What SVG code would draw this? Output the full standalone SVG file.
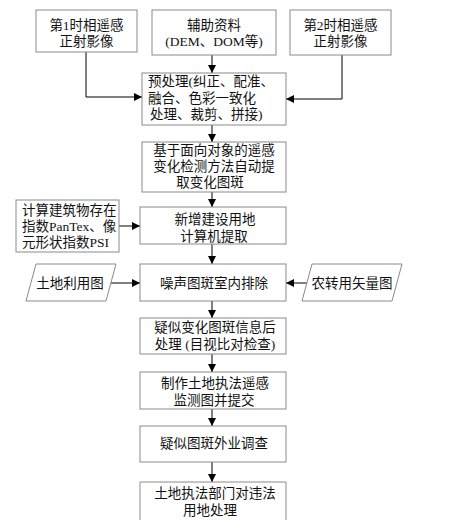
<svg xmlns="http://www.w3.org/2000/svg" width="453" height="530" viewBox="0 0 453 530">
<style>
.b{fill:#fff;stroke:#8a8a8a;stroke-width:1}
.t{font-family:"Liberation Serif","Noto Sans CJK SC",serif;font-size:13.5px;fill:#111}
.c{text-anchor:middle}
.l{fill:none;stroke:#000;stroke-width:1}
</style>
<defs>
<marker id="a" viewBox="0 0 10 10" refX="10" refY="5" markerWidth="8" markerHeight="8" markerUnits="userSpaceOnUse" orient="auto">
<path d="M0,0L10,5L0,10z" fill="#000"/>
</marker>
</defs>
<rect width="453" height="530" fill="#fff"/>
<g id="connectors">
<path class="l" d="M212,55V73" marker-end="url(#a)"/>
<path class="l" d="M86,52V97H142" marker-end="url(#a)"/>
<path class="l" d="M342,55V99H286" marker-end="url(#a)"/>
<path class="l" d="M212,125V142" marker-end="url(#a)"/>
<path class="l" d="M212,192V207" marker-end="url(#a)"/>
<path class="l" d="M119,226H140" marker-end="url(#a)"/>
<path class="l" d="M212,244V264" marker-end="url(#a)"/>
<path class="l" d="M110,283H140" marker-end="url(#a)"/>
<path class="l" d="M310,283H286" marker-end="url(#a)"/>
<path class="l" d="M212,301V318" marker-end="url(#a)"/>
<path class="l" d="M212,354V372" marker-end="url(#a)"/>
<path class="l" d="M212,409V426" marker-end="url(#a)"/>
<path class="l" d="M212,462V482" marker-end="url(#a)"/>
</g>
<g id="n1"><rect class="b" x="36" y="10" width="101" height="42"/>
<text class="t c" x="86.5" y="30">第1时相遥感</text><text class="t c" x="86.5" y="46">正射影像</text></g>
<g id="n2"><rect class="b" x="152" y="10" width="124" height="45"/>
<text class="t c" x="214" y="30">辅助资料</text><text class="t c" x="214" y="46">(DEM、DOM等)</text></g>
<g id="n3"><rect class="b" x="290" y="10" width="101" height="45"/>
<text class="t c" x="340.5" y="30">第2时相遥感</text><text class="t c" x="340.5" y="46">正射影像</text></g>
<g id="n4"><rect class="b" x="142" y="73" width="144" height="52"/>
<text class="t" x="148" y="86">预处理(纠正、配准、</text><text class="t" x="148" y="103">融合、色彩一致化</text><text class="t" x="150" y="119">处理、裁剪、拼接)</text></g>
<g id="n5"><rect class="b" x="142" y="142" width="144" height="50"/>
<text class="t c" x="214" y="155">基于面向对象的遥感</text><text class="t c" x="214" y="171">变化检测方法自动提</text><text class="t c" x="210" y="187">取变化图斑</text></g>
<g id="n6"><rect class="b" x="140" y="207" width="146" height="37"/>
<text class="t c" x="215" y="224">新增建设用地</text><text class="t c" x="214" y="241">计算机提取</text></g>
<g id="n7"><rect class="b" x="16" y="200" width="103" height="52"/>
<text class="t" x="22" y="215">计算建筑物存在</text><text class="t" x="22" y="231">指数PanTex、像</text><text class="t" x="22" y="247">元形状指数PSI</text></g>
<g id="n8"><rect class="b" x="140" y="264" width="146" height="37"/>
<text class="t c" x="214" y="288">噪声图斑室内排除</text></g>
<g id="n9"><polygon class="b" points="36,264 116,264 106,301 26,301"/>
<text class="t c" x="70" y="288">土地利用图</text></g>
<g id="n10"><polygon class="b" points="312,264 402,264 392,301 302,301"/>
<text class="t c" x="352" y="288">农转用矢量图</text></g>
<g id="n11"><rect class="b" x="140" y="318" width="146" height="36"/>
<text class="t c" x="215" y="332">疑似变化图斑信息后</text><text class="t c" x="215" y="349">处理 (目视比对检查)</text></g>
<g id="n12"><rect class="b" x="140" y="372" width="146" height="37"/>
<text class="t c" x="215" y="388">制作土地执法遥感</text><text class="t c" x="214" y="405">监测图并提交</text></g>
<g id="n13"><rect class="b" x="140" y="426" width="146" height="36"/>
<text class="t c" x="214" y="448">疑似图斑外业调查</text></g>
<g id="n14"><path class="b" d="M140,520V482H286V520"/>
<text class="t c" x="215" y="498">土地执法部门对违法</text><text class="t c" x="210" y="515">用地处理</text></g>
</svg>
